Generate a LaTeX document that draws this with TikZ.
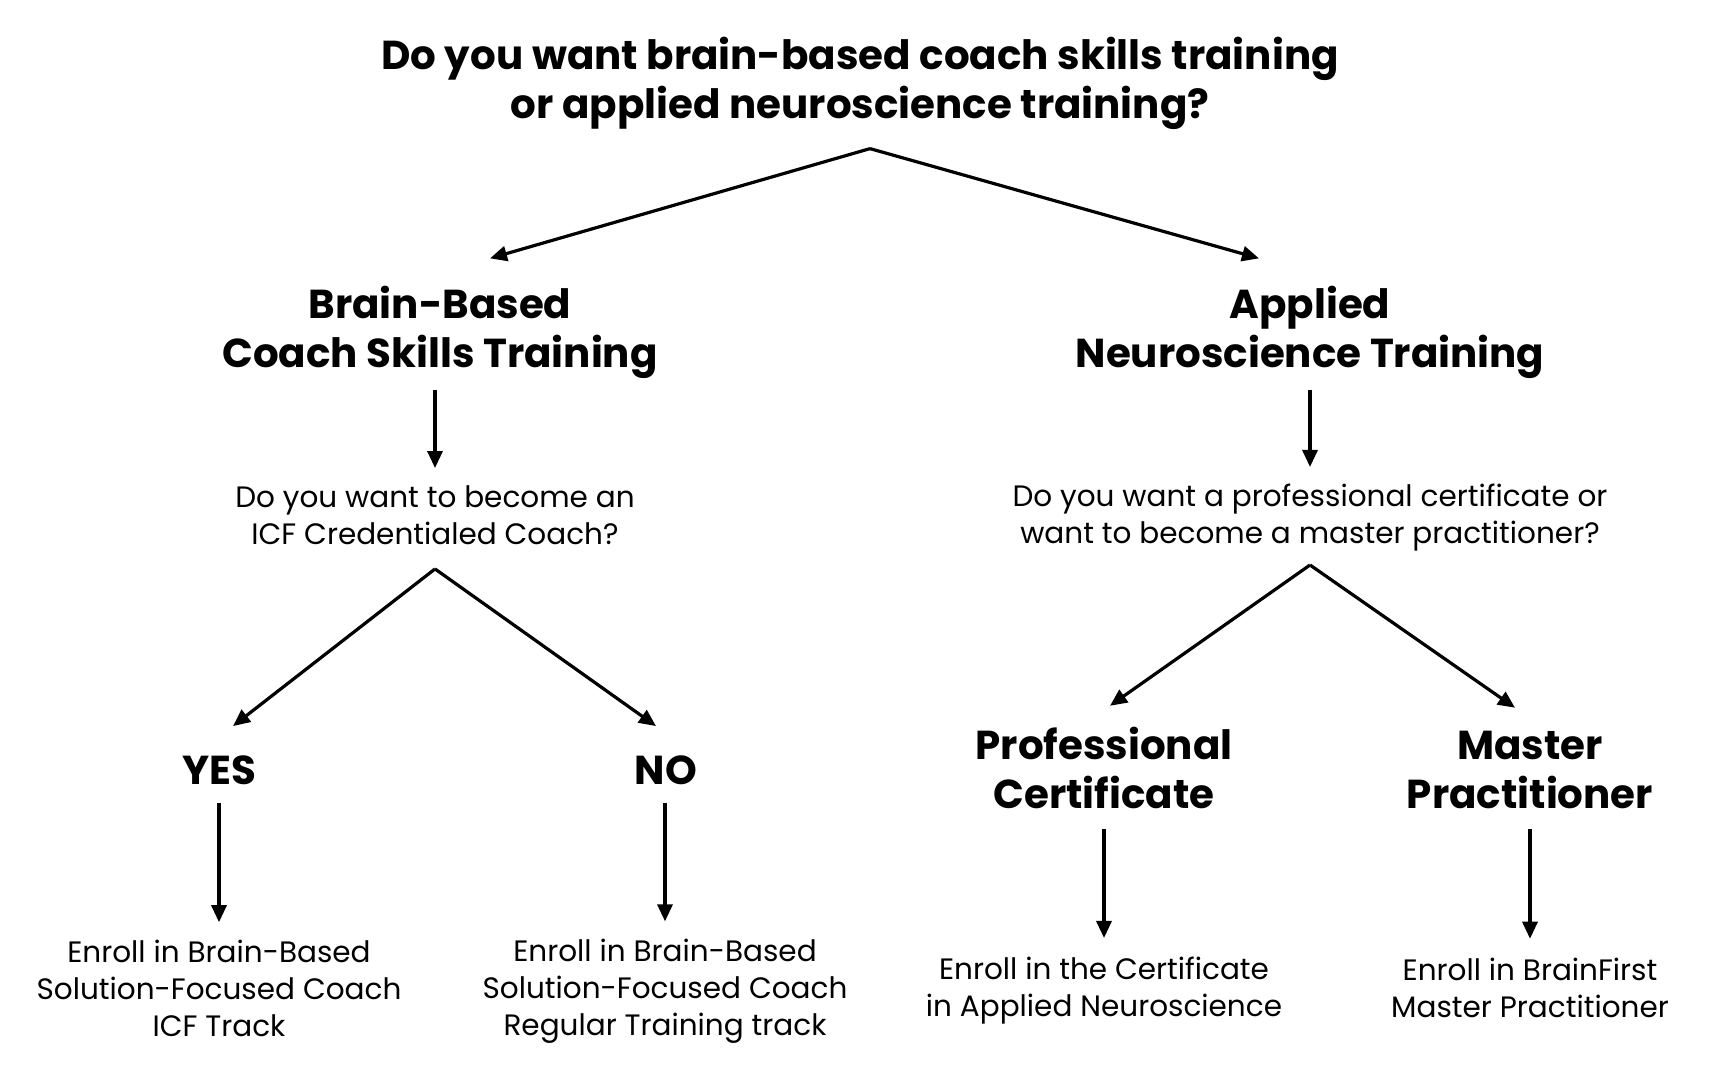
\documentclass[tikz,border=0pt]{standalone}
\usepackage{fontspec}
\setmainfont{Poppins}
\usetikzlibrary{arrows.meta,calc}
\tikzset{
  head/.style={font=\fontsize{20.2}{24.5}\selectfont\bfseries, align=center, inner sep=0pt},
  body/.style={font=\fontsize{14.75}{18.5}\selectfont, align=center, inner sep=0pt},
  arr/.style={line width=1.6pt, -{Triangle[length=8.5pt,width=7.5pt]}},
  vdown/.style={arr, shorten <=#1},
}
\begin{document}
\begin{tikzpicture}[x=0.5pt,y=-0.5pt]
\fill[white] (0,0) rectangle (1720,1080);
\useasboundingbox (0,0) rectangle (1720,1080);

\node[head] (title) at (860,83) {Do you want brain-based coach skills training\\or applied neuroscience training?};
\node[head] (bb) at (440,332) {Brain-Based\\Coach Skills Training};
\node[head] (an) at (1310,332) {Applied\\Neuroscience Training};
\node[body] (q1) at (435,515) {Do you want to become an\\ICF Credentialed Coach?};
\node[body] (q2) at (1310,518) {Do you want a professional certificate or\\want to become a master practitioner?};
\node[head] (yes) at (219,770) {YES};
\node[head] (no) at (666,770) {NO};
\node[head] (pc) at (1104,768) {Professional\\Certificate};
\node[head] (mp) at (1530,770) {Master\\Practitioner};
\node[body] (e1) at (219,988) {Enroll in Brain-Based\\Solution-Focused Coach\\ICF Track};
\node[body] (e2) at (665,991) {Enroll in Brain-Based\\Solution-Focused Coach\\Regular Training track};
\node[body] (e3) at (1104,991) {Enroll in the Certificate\\in Applied Neuroscience};
\node[body] (e4) at (1530,988) {Enroll in BrainFirst\\Master Practitioner};

% split points below the questions
\coordinate (s1) at ($(title.south)+(10,19)$);
\coordinate (s2) at ($(q1.south)+(0,24)$);
\coordinate (s3) at ($(q2.south)+(0,13)$);

\draw[arr] (s1) -- ($(bb.north)+(50,-27)$);
\draw[arr] (s1) -- ($(an.north)+(-51,-27)$);
\draw[arr] (s2) -- ($(yes.north)+(14,-29)$);
\draw[arr] (s2) -- ($(no.north)+(-10,-29)$);
\draw[arr] (s3) -- ($(pc.north)+(6,-21)$);
\draw[arr] (s3) -- ($(mp.north)+(-15,-23)$);

\draw[vdown=5.5pt, shorten >=8.5pt] (bb.south -| q1.north) -- (q1.north);
\draw[vdown=5.5pt, shorten >=8.5pt] (an.south) -- (q2.north);
\draw[vdown=9pt, shorten >=8.5pt] (yes.south) -- (e1.north);
\draw[vdown=9pt, shorten >=8.5pt] (no.south -| e2.north) -- (e2.north);
\draw[vdown=10pt, shorten >=9.5pt] (pc.south) -- (e3.north);
\draw[vdown=10pt, shorten >=9.5pt] (mp.south) -- (e4.north);
\end{tikzpicture}
\end{document}
